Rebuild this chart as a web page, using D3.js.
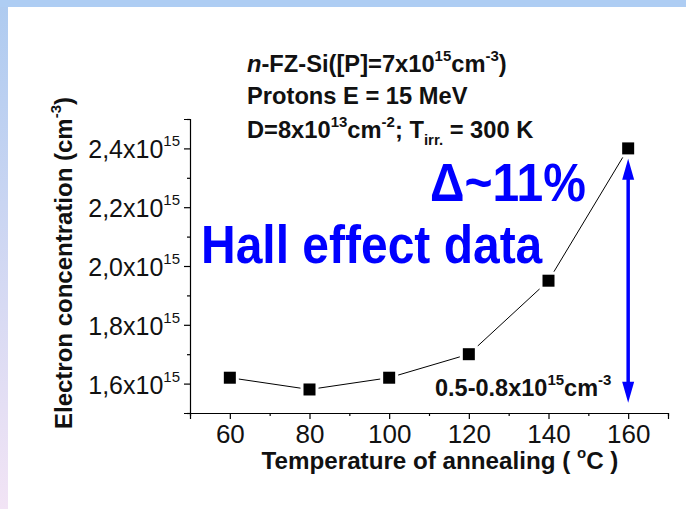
<!DOCTYPE html>
<html>
<head>
<meta charset="utf-8">
<script src="https://cdn.jsdelivr.net/npm/d3@7"></script>
<style>
  body { margin: 0; background: #fff; }
  svg text { font-family: "Liberation Sans", Arial, sans-serif; }
</style>
</head>
<body>
<script>
// data: temperature of annealing (C) vs electron concentration (x10^15 cm^-3)
var temps = [60, 80, 100, 120, 140, 160],
    conc = [1.62, 1.58, 1.62, 1.70, 1.95, 2.40];

// tick labels
var xTicks = [60, 80, 100, 120, 140, 160],
    yTicks = [1.6, 1.8, 2.0, 2.2, 2.4],
    yTickLabels = ["1,6", "1,8", "2,0", "2,2", "2,4"];

// delta arrow (in data units)
var arrowTemp = 160,
    arrowTop = 2.365,
    arrowBottom = 1.535;

var width = 686, height = 509;
var margin = {left: 190, right: 18, top: 119, bottom: 96};

var svg = d3.select("body").append("svg")
    .attr("width", width)
    .attr("height", height);

// slide frame
var grad = svg.append("defs").append("linearGradient")
    .attr("id", "side").attr("x1", 0).attr("y1", 0).attr("x2", 0).attr("y2", 1);
grad.append("stop").attr("offset", "0%").attr("stop-color", "#aecbf0");
grad.append("stop").attr("offset", "100%").attr("stop-color", "#f2e4f5");
svg.append("rect").attr("x", 0).attr("y", 0).attr("width", 8).attr("height", height).attr("fill", "url(#side)");
svg.append("rect").attr("x", 0).attr("y", 0).attr("width", width).attr("height", 7).attr("fill", "#aecdf3");

var x = d3.scaleLinear()
    .domain([50, 170])
    .range([margin.left, width - margin.right]);
var y = d3.scaleLinear()
    .domain([1.5, 2.5])
    .range([height - margin.bottom, margin.top]);

// axes
var xAxis = svg.append("g")
    .attr("transform", "translate(0," + y(1.5) + ")")
    .call(d3.axisBottom(x).tickValues(d3.range(50, 171, 10)).tickSize(6).tickPadding(6)
        .tickFormat(function(d) { return xTicks.indexOf(d) >= 0 ? d : ""; }));
xAxis.selectAll(".tick line")
    .attr("y2", function(d) { return xTicks.indexOf(d) >= 0 ? 6 : 3; });

var yAxis = svg.append("g")
    .attr("transform", "translate(" + x(50) + ",0)")
    .call(d3.axisLeft(y).tickValues(d3.range(15, 26).map(function(d) { return d / 10; })).tickSize(6).tickPadding(4)
        .tickFormat(""));
yAxis.selectAll(".tick line")
    .attr("x2", function(d) { return yTicks.some(function(t) { return Math.abs(t - d) < 1e-6; }) ? -6 : -3; });

[xAxis, yAxis].forEach(function(g) {
    g.select(".domain").attr("stroke", "#000").attr("stroke-width", 1.2);
    g.selectAll(".tick line").attr("stroke", "#000").attr("stroke-width", 1.2);
    g.selectAll("text").attr("font-size", 26).attr("fill", "#111");
});

// y tick labels with superscript
var yLab = svg.append("g").attr("font-size", 25).attr("fill", "#111");
yTicks.forEach(function(v, i) {
    var t = yLab.append("text")
        .attr("x", x(50) - 10)
        .attr("y", y(v) + 10)
        .attr("text-anchor", "end");
    t.append("tspan").text(yTickLabels[i] + "x10");
    t.append("tspan").attr("font-size", 15).attr("dy", -12).text("15");
});

// line + markers
var line = d3.line()
    .x(function(d, i) { return x(temps[i]); })
    .y(function(d) { return y(d); });
svg.append("path")
    .datum(conc)
    .attr("d", line)
    .attr("fill", "none")
    .attr("stroke", "#000")
    .attr("stroke-width", 1);

var pts = svg.append("g");
pts.selectAll("rect.gap")
    .data(conc).enter().append("rect")
    .attr("class", "gap")
    .attr("x", function(d, i) { return x(temps[i]) - 9; })
    .attr("y", function(d) { return y(d) - 9; })
    .attr("width", 18).attr("height", 18)
    .attr("fill", "#fff");
pts.selectAll("rect.pt")
    .data(conc).enter().append("rect")
    .attr("class", "pt")
    .attr("x", function(d, i) { return x(temps[i]) - 6; })
    .attr("y", function(d) { return y(d) - 6; })
    .attr("width", 12).attr("height", 12)
    .attr("fill", "#000");

// blue double arrow
var ax = x(arrowTemp), at = y(arrowTop), ab = y(arrowBottom);
svg.append("line")
    .attr("x1", ax).attr("x2", ax)
    .attr("y1", at + 18).attr("y2", ab - 18)
    .attr("stroke", "#0000ff").attr("stroke-width", 3.5);
svg.append("path")
    .attr("d", "M" + ax + "," + at + "L" + (ax - 6) + "," + (at + 21) + "L" + (ax + 6) + "," + (at + 21) + "Z")
    .attr("fill", "#0000ff");
svg.append("path")
    .attr("d", "M" + ax + "," + ab + "L" + (ax - 6) + "," + (ab - 21) + "L" + (ax + 6) + "," + (ab - 21) + "Z")
    .attr("fill", "#0000ff");

// annotations
var note = svg.append("g").attr("font-size", 23.7).attr("font-weight", "bold").attr("fill", "#111");
var l1 = note.append("text").attr("x", 247).attr("y", 72);
l1.append("tspan").attr("font-style", "italic").text("n");
l1.append("tspan").text("-FZ-Si([P]=7x10");
l1.append("tspan").attr("font-size", 15).attr("dy", -11).text("15");
l1.append("tspan").attr("dy", 11).text("cm");
l1.append("tspan").attr("font-size", 15).attr("dy", -11).text("-3");
l1.append("tspan").attr("dy", 11).text(")");

note.append("text").attr("x", 247).attr("y", 104).text("Protons E = 15 MeV");

var l3 = note.append("text").attr("x", 247).attr("y", 138);
l3.append("tspan").text("D=8x10");
l3.append("tspan").attr("font-size", 15).attr("dy", -11).text("13");
l3.append("tspan").attr("dy", 11).text("cm");
l3.append("tspan").attr("font-size", 15).attr("dy", -11).text("-2");
l3.append("tspan").attr("dy", 11).text("; T");
l3.append("tspan").attr("font-size", 15).attr("dy", 7).text("irr.");
l3.append("tspan").attr("dy", -7).text(" = 300 K");

var l4 = note.append("text").attr("x", 435).attr("y", 396).attr("font-size", 23.5);
l4.append("tspan").text("0.5-0.8x10");
l4.append("tspan").attr("font-size", 15).attr("dy", -11).text("15");
l4.append("tspan").attr("dy", 11).text("cm");
l4.append("tspan").attr("font-size", 15).attr("dy", -11).text("-3");

svg.append("text")
    .attr("transform", "translate(430,201) scale(1,1.1)")
    .attr("font-size", 48).attr("font-weight", "bold").attr("fill", "#0000ff")
    .text("\u0394~11%");
svg.append("text")
    .attr("transform", "translate(201,263) scale(1,1.1)")
    .attr("font-size", 48).attr("font-weight", "bold").attr("fill", "#0000ff")
    .text("Hall effect data");

// axis titles
var xt = svg.append("text")
    .attr("x", 440).attr("y", 469)
    .attr("text-anchor", "middle")
    .attr("font-size", 24.2).attr("font-weight", "bold").attr("fill", "#111");
xt.append("tspan").text("Temperature of annealing ( ");
xt.append("tspan").attr("font-size", 15).attr("dy", -11).text("o");
xt.append("tspan").attr("dy", 11).text("C )");

var yt = svg.append("text")
    .attr("transform", "translate(72,263) rotate(-90)")
    .attr("text-anchor", "middle")
    .attr("font-size", 24).attr("font-weight", "bold").attr("fill", "#111");
yt.append("tspan").text("Electron concentration (cm");
yt.append("tspan").attr("font-size", 15).attr("dy", -11).text("-3");
yt.append("tspan").attr("dy", 11).text(")");
</script>
</body>
</html>
